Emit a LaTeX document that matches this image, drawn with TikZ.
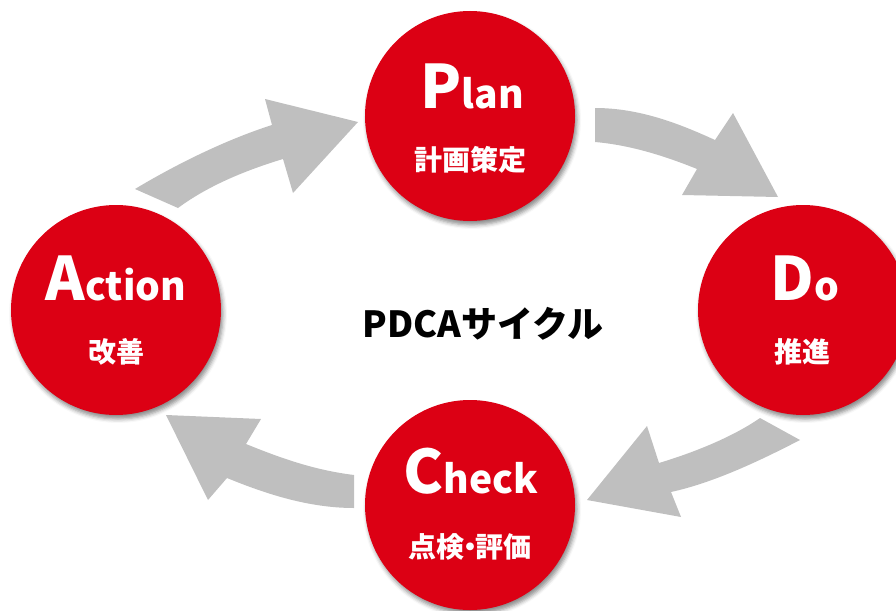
\documentclass[tikz,border=0pt]{standalone}
\usepackage{fontspec}
\setmainfont{Noto Sans CJK JP}
\newfontfamily\jp{Noto Sans CJK JP}
\usetikzlibrary{shadows.blur}
\definecolor{pred}{RGB}{220,0,20}
\definecolor{agray}{RGB}{191,191,191}
\newcommand\bigtxt[2]{{\fontsize{60}{62}\selectfont #1}{\fontsize{39}{41}\selectfont #2}}
\begin{document}
\begin{tikzpicture}[x=1pt,y=-1pt,
  phase/.style={circle, fill=pred, minimum size=210pt, inner sep=0pt,
    blur shadow={shadow xshift=2pt, shadow yshift=-4pt, shadow blur radius=4pt, shadow opacity=45}},
  bigtext/.style={text=white, font=\jp\bfseries, anchor=base, inner sep=0pt},
  subtext/.style={text=white, font=\jp\bfseries\fontsize{28}{30}\selectfont, inner sep=0pt},
  blockarrow/.style={fill=agray, draw=none}]
\useasboundingbox (0,0) rectangle (896,610);
% arrows
\fill[blockarrow] (135,189) .. controls (175,165) and (225,140) .. (272,125) -- (265,99) -- (358,122) -- (293,193) -- (283,159) .. controls (240,172) and (205,188) .. (178,208) -- cycle;
\fill[blockarrow] (595,108) .. controls (640,108) and (680,124) .. (715,140) -- (733,113) -- (778,197) -- (682,195) -- (697,169) .. controls (665,156) and (630,145) .. (595,142) -- cycle;
\fill[blockarrow] (800,440) .. controls (767,457) and (717,482) .. (671,492) -- (681,517) -- (587,500) -- (647,426) -- (659,463) .. controls (702,450) and (737,434) .. (760,418) -- cycle;
\fill[blockarrow] (354,508) .. controls (309,508) and (266,494) .. (227,478) -- (208,500) -- (166,415) -- (261,419) -- (246,444) .. controls (278,457) and (313,470) .. (354,475) -- cycle;
% circles
\node[phase] (plan) at (470,116) {};
\node[phase] (do) at (803,310) {};
\node[phase] (check) at (470,505) {};
\node[phase] (act) at (116,310) {};
% texts
\node[bigtext] (planT) at (472,108) {\bigtxt{P}{lan}};
\node[subtext] (planS) at (470,160) {計画策定};
\node[bigtext] (doT) at (805,300) {\bigtxt{D}{o}};
\node[subtext] (doS) at (802,352) {推進};
\node[bigtext] (checkT) at (471,493) {\bigtxt{C}{heck}};
\node[subtext] (checkS) at (470,547) {点検\kern-0.32em・\kern-0.32em評価};
\node[bigtext] (actT) at (116,300) {\bigtxt{A}{ction}};
\node[subtext] (actS) at (116,352) {改善};
\node[font=\jp\bfseries\fontsize{36}{40}\selectfont, anchor=base, inner sep=0pt] (title) at (483,337) {PDCAサイクル};
\end{tikzpicture}
\end{document}
